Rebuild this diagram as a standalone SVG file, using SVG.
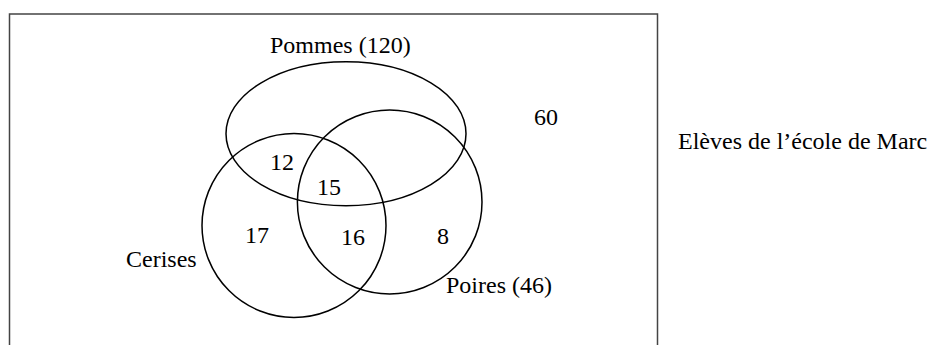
<svg xmlns="http://www.w3.org/2000/svg" width="929" height="345" viewBox="0 0 929 345">
<style>
text{font-family:"Liberation Serif","Times New Roman",serif;font-size:24px;fill:#000}
.set{fill:none;stroke:#000;stroke-width:1.5}
.frame{fill:none;stroke:#444;stroke-width:1.5}
.n{text-anchor:middle}
</style>
<rect width="929" height="345" fill="#fff"/>
<g id="universe">
<path class="frame" d="M9.5,346 V14 H657.5 V346"/>
<text x="678" y="149">Elèves de l’école de Marc</text>
<text class="n" x="546" y="125">60</text>
</g>
<g id="pommes">
<ellipse class="set" cx="346" cy="133.7" rx="120" ry="72"/>
<text x="270" y="53">Pommes (120)</text>
</g>
<g id="cerises">
<ellipse class="set" cx="294" cy="225.5" rx="92" ry="92"/>
<text x="126" y="266.5">Cerises</text>
</g>
<g id="poires">
<ellipse class="set" cx="389.7" cy="202" rx="92.3" ry="92"/>
<text x="446" y="292.5">Poires (46)</text>
</g>
<g id="regions">
<text class="n" x="282" y="170">12</text>
<text class="n" x="329" y="194.5">15</text>
<text class="n" x="257" y="243">17</text>
<text class="n" x="353" y="244.5">16</text>
<text class="n" x="443" y="244">8</text>
</g>
<g id="connectors"></g>
</svg>
